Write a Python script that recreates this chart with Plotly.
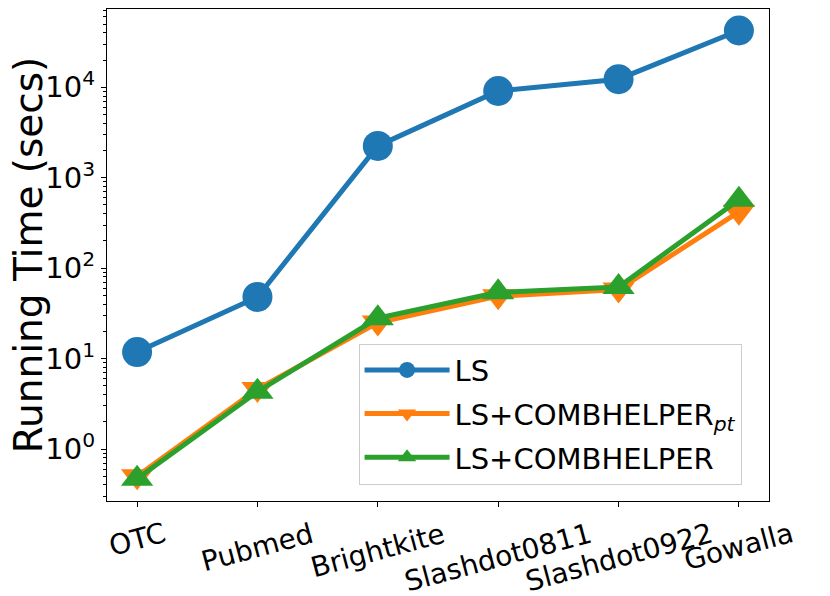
import plotly.graph_objects as go

datasets = ["OTC", "Pubmed", "Brightkite", "Slashdot0811", "Slashdot0922", "Gowalla"]
ls_time = [11.8, 48, 2250, 9100, 12300, 42500]
ls_pt_time = [0.50, 4.6, 25, 49, 58, 420]
ls_comb_time = [0.47, 4.3, 28, 54, 62, 570]

series_names = ["LS", "LS+COMBHELPER<sub><i>pt</i></sub>", "LS+COMBHELPER"]
series_vals = [ls_time, ls_pt_time, ls_comb_time]
colors = ["#1f77b4", "#ff7f0e", "#2ca02c"]
symbols = ["circle", "triangle-down", "triangle-up"]
sizes = [30, 28, 28]

ytick_vals = [1, 10, 100, 1000, 10000]
ytick_text = ["10<sup>0</sup>", "10<sup>1</sup>", "10<sup>2</sup>", "10<sup>3</sup>", "10<sup>4</sup>"]
minor_vals = [m * 10 ** k for k in range(-1, 5) for m in range(2, 10)]

FONT = "DejaVu Sans"

fig = go.Figure()
for i, (name, vals) in enumerate(zip(series_names, series_vals)):
    fig.add_trace(go.Scatter(
        x=datasets, y=vals, name=name, mode="lines+markers",
        line=dict(color=colors[i], width=5),
        marker=dict(symbol=symbols[i], size=sizes[i], color=colors[i], line=dict(width=0)),
        legendgroup=f"g{i}",
    ))

for i, d in enumerate(datasets):
    fig.add_annotation(
        x=d, xref="x", y=0, yref="paper", yshift=-13,
        text=d, showarrow=False, textangle=-15,
        xanchor="center", yanchor="top",
        font=dict(family=FONT, size=28, color="black"),
    )

fig.add_annotation(
    x=-0.119, xref="paper", y=0.5, yref="paper",
    text="Running Time (secs)", showarrow=False, textangle=-90,
    xanchor="center", yanchor="middle",
    font=dict(family=FONT, size=39, color="black"),
)

# page body has an 8px margin; figure is sized so the plot lands where the reference has it
fig.update_layout(
    width=822, height=588,
    margin=dict(l=99, r=61, t=1, b=95, autoexpand=False),
    paper_bgcolor="white", plot_bgcolor="white",
    font=dict(family=FONT, size=28, color="black"),
    showlegend=True,
    legend=dict(
        x=0.38, y=0.32, xanchor="left", yanchor="top",
        bgcolor="rgba(255,255,255,0.8)", bordercolor="#cccccc", borderwidth=1,
        font=dict(family=FONT, size=29, color="black"),
        tracegroupgap=3, itemwidth=85,
    ),
    xaxis=dict(
        type="category", range=[-0.25, 5.25], automargin=False,
        showline=True, linecolor="black", linewidth=1.2, mirror=True,
        ticks="outside", ticklen=5, tickcolor="black",
        showticklabels=False, showgrid=False, zeroline=False,
    ),
    yaxis=dict(
        type="log", range=[-0.575, 4.866], automargin=False,
        showline=True, linecolor="black", linewidth=1.2, mirror=True,
        ticks="outside", ticklen=5, tickcolor="black",
        tickmode="array", tickvals=ytick_vals, ticktext=ytick_text,
        tickfont=dict(family=FONT, size=29, color="black"),
        minor=dict(ticks="outside", ticklen=3, tickcolor="black", tickmode="array", tickvals=minor_vals, showgrid=False),
        showgrid=False, zeroline=False,
    ),
)

fig.write_html("out.html")
